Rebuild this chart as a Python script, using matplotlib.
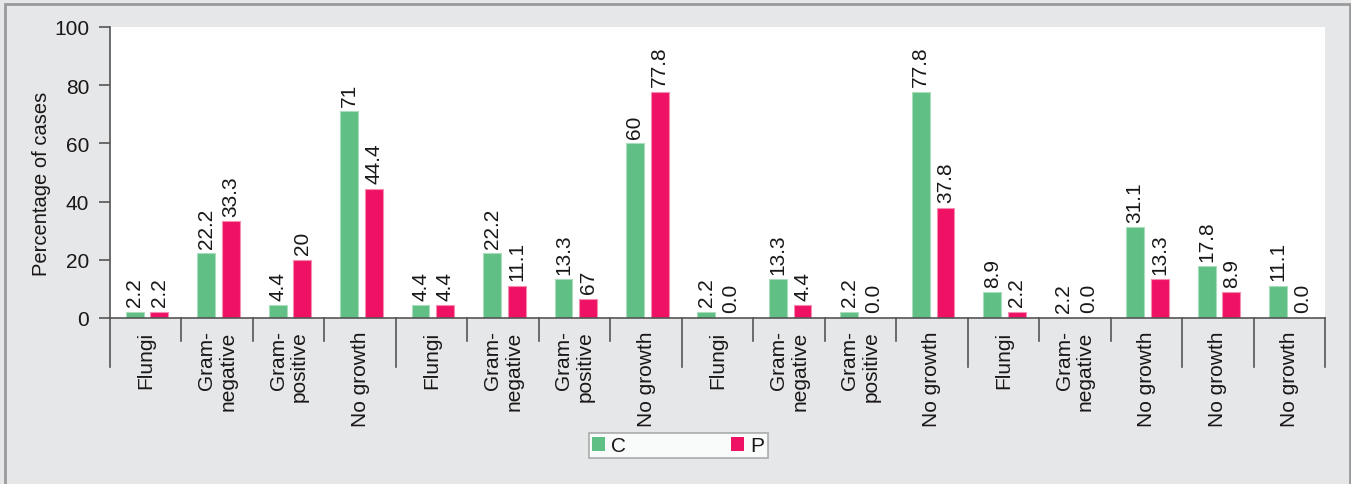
import matplotlib
matplotlib.use("Agg")
import matplotlib.pyplot as plt
from matplotlib.patches import Patch, Rectangle
import matplotlib.transforms as mtransforms

plt.rcParams['font.family'] = ['Liberation Sans', 'DejaVu Sans']

categories = ["Flungi", "Gram-\nnegative", "Gram-\npositive", "No growth",
              "Flungi", "Gram-\nnegative", "Gram-\npositive", "No growth",
              "Flungi", "Gram-\nnegative", "Gram-\npositive", "No growth",
              "Flungi", "Gram-\nnegative", "No growth",
              "No growth",
              "No growth"]
group_sizes = [4, 4, 4, 3, 1, 1]

c_values = [2.2, 22.2, 4.4, 71, 4.4, 22.2, 13.3, 60, 2.2, 13.3, 2.2, 77.8, 8.9, 0.0, 31.1, 17.8, 11.1]
p_values = [2.2, 33.3, 20, 44.4, 4.4, 11.1, 6.7, 77.8, 0.0, 4.4, 0.0, 37.8, 2.2, 0.0, 13.3, 8.9, 0.0]
c_labels = ["2.2", "22.2", "4.4", "71", "4.4", "22.2", "13.3", "60", "2.2", "13.3", "2.2", "77.8", "8.9", "2.2", "31.1", "17.8", "11.1"]
p_labels = ["2.2", "33.3", "20", "44.4", "4.4", "11.1", "67", "77.8", "0.0", "4.4", "0.0", "37.8", "2.2", "0.0", "13.3", "8.9", "0.0"]
series_names = ["C", "P"]
yticks = [0, 20, 40, 60, 80, 100]

GREEN = "#5fbf84"
PINK = "#ee1164"
TXT = "#1a1718"
AX = "#555555"
FS = 15

W, H = 1351, 485
fig = plt.figure(figsize=(W / 100, H / 100), dpi=100)
fig.patch.set_facecolor("#e6e7e8")

ax = fig.add_axes([110 / W, 1 - 319 / H, (1325 - 110) / W, (319 - 28) / H])
ax.set_facecolor("white")

n = len(categories)
x = list(range(n))
bw = 0.25
off_c, off_p = -0.155, 0.19
ax.bar([i + off_c for i in x], c_values, width=bw, color=GREEN, edgecolor="#a9ddbb", linewidth=0.8)
ax.bar([i + off_p for i in x], p_values, width=bw, color=PINK, edgecolor="#f48db0", linewidth=0.8)

for i in x:
    ax.annotate(c_labels[i], (i + off_c, c_values[i]), xytext=(0, 4), textcoords="offset points",
                rotation=90, ha="center", va="bottom", fontsize=FS, color=TXT)
    ax.annotate(p_labels[i], (i + off_p, p_values[i]), xytext=(0, 4), textcoords="offset points",
                rotation=90, ha="center", va="bottom", fontsize=FS, color=TXT)

ax.set_xlim(-0.5, n - 0.5)
ax.set_ylim(0, 100)
ax.set_yticks(yticks)
ax.tick_params(axis="y", direction="out", length=8, width=1.2, color=AX, labelsize=FS, labelcolor=TXT, pad=7)
ax.set_xticks(x)
ax.set_xticklabels(categories, rotation=90, fontsize=FS, color=TXT, va="top", ha="center",
                   multialignment="right", linespacing=1.15)
ax.tick_params(axis="x", length=0, pad=9)

for s in ["top", "right"]:
    ax.spines[s].set_visible(False)
for s in ["left", "bottom"]:
    ax.spines[s].set_color(AX)
    ax.spines[s].set_linewidth(1.2)

ax.set_ylabel("Percentage of cases", fontsize=14.5, color=TXT)
ax.yaxis.set_label_coords(-59 / 1215, 0.465)

# separators
trans = mtransforms.blended_transform_factory(ax.transData, ax.transAxes)
long_pos = [0]
acc = 0
for g in group_sizes:
    acc += g
    long_pos.append(acc)
long_len = 49 / 291
short_len = 23 / 291
for k in range(n + 1):
    L = long_len if k in long_pos else short_len
    ax.plot([k - 0.5, k - 0.5], [0, -L], transform=trans, color=AX, lw=1.2, clip_on=False)

handles = [Patch(facecolor=GREEN, edgecolor="none"), Patch(facecolor=PINK, edgecolor="none")]
leg = fig.legend(handles, series_names, loc="center", bbox_to_anchor=(678 / W, 1 - 446.5 / H),
                 ncol=2, fontsize=FS, frameon=True, fancybox=False, edgecolor="#9a9a9a",
                 handlelength=0.65, handleheight=0.65, handletextpad=0.3, columnspacing=5.0,
                 borderpad=0.15, borderaxespad=0)
leg.get_frame().set_linewidth(1.2)
leg.get_frame().set_facecolor("white")
for t in leg.get_texts():
    t.set_color(TXT)

fig.patches.append(Rectangle((5 / W, -0.1), (1350 - 5) / W, 1.1 - 5 / H, transform=fig.transFigure,
                             fill=False, edgecolor="#9a9a9a", linewidth=2, clip_on=False))

fig.savefig("out.png", dpi=100, facecolor=fig.get_facecolor())
